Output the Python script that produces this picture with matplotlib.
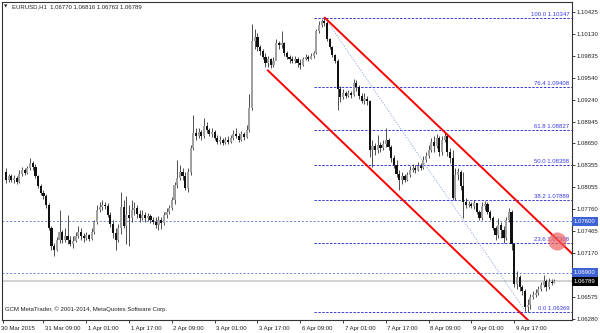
import matplotlib
matplotlib.use("Agg")
import matplotlib.pyplot as plt
from matplotlib.transforms import ScaledTranslation, blended_transform_factory

plt.rcParams['font.family'] = ['Liberation Sans', 'DejaVu Sans']

symbol = "EURUSD,H1"
last_ohlc = ["1.06770", "1.06816", "1.06763", "1.06789"]

# hourly candles, 30 Mar 19:00 .. 10 Apr 06:00 (weekend skipped)
first_open = 1.08263
closes = [
    1.08156, 1.08210, 1.08156, 1.08183, 1.08129, 1.08237, 1.08290, 1.08250, 1.08317, 1.08384,
    1.08331, 1.08210, 1.08076, 1.07982, 1.07942, 1.07821, 1.07513, 1.07258, 1.07217, 1.07352,
    1.07459, 1.07352, 1.07405, 1.07352, 1.07298, 1.07338, 1.07405, 1.07459, 1.07405, 1.07378,
    1.07419, 1.07365, 1.07459, 1.07593, 1.07754, 1.07794, 1.07821, 1.07808, 1.07687, 1.07566,
    1.07445, 1.07352, 1.07513, 1.07794, 1.07539, 1.07687, 1.07647, 1.07754, 1.07781, 1.07700,
    1.07647, 1.07687, 1.07647, 1.07673, 1.07620, 1.07593, 1.07553, 1.07620, 1.07580, 1.07687,
    1.07727, 1.07781, 1.07888, 1.08089, 1.08183, 1.08263, 1.08210, 1.08049, 1.08263, 1.08585,
    1.08786, 1.08746, 1.08800, 1.08746, 1.08880, 1.08827, 1.08773, 1.08800, 1.08719, 1.08666,
    1.08693, 1.08652, 1.08693, 1.08666, 1.08719, 1.08773, 1.08746, 1.08693, 1.08773, 1.08733,
    1.08827, 1.09122, 1.10034, 1.10087, 1.09953, 1.09899, 1.09819, 1.09739, 1.09792, 1.09712,
    1.09765, 1.10007, 1.09980, 1.10007, 1.09873, 1.09819, 1.09792, 1.09765, 1.09792, 1.09739,
    1.09712, 1.09792, 1.09819, 1.09792, 1.09832, 1.09873, 1.10168, 1.10248, 1.10302, 1.10275,
    1.10060, 1.09953, 1.09846, 1.09765, 1.09390, 1.09283, 1.09336, 1.09296, 1.09336, 1.09309,
    1.09470, 1.09417, 1.09296, 1.09229, 1.09256, 1.09229, 1.08558, 1.08612, 1.08558, 1.08626,
    1.08585, 1.08639, 1.08693, 1.08599, 1.08451, 1.08357, 1.08237, 1.08156, 1.08210, 1.08156,
    1.08223, 1.08290, 1.08317, 1.08290, 1.08344, 1.08317, 1.08424, 1.08478, 1.08558, 1.08666,
    1.08612, 1.08719, 1.08532, 1.08693, 1.08746, 1.08532, 1.08451, 1.07915, 1.08223, 1.08263,
    1.08076, 1.07861, 1.07821, 1.07834, 1.07808, 1.07848, 1.07727, 1.07647, 1.07808, 1.07834,
    1.07727, 1.07647, 1.07513, 1.07419, 1.07553, 1.07486, 1.07378, 1.07620, 1.07727, 1.07285,
    1.06750, 1.06844, 1.06710, 1.06657, 1.06443, 1.06470, 1.06577, 1.06604, 1.06630, 1.06684,
    1.06737, 1.06791, 1.06710, 1.06778, 1.06770, 1.06789,
]
highs = [
    1.08317, 1.08237, 1.08237, 1.08223, 1.08210, 1.08290, 1.08331, 1.08317, 1.08344, 1.08451,
    1.08411, 1.08371, 1.08223, 1.08103, 1.08022, 1.07968, 1.07848, 1.07539, 1.07311, 1.07392,
    1.07754, 1.07486, 1.07513, 1.07687, 1.07405, 1.07405, 1.07459, 1.07539, 1.07513, 1.07445,
    1.07459, 1.07432, 1.07513, 1.07620, 1.07821, 1.07861, 1.07888, 1.07861, 1.07848, 1.07727,
    1.07620, 1.07513, 1.07566, 1.07995, 1.07888, 1.07942, 1.07821, 1.07888, 1.07861, 1.07821,
    1.07754, 1.07754, 1.07727, 1.07714, 1.07700, 1.07660, 1.07660, 1.07673, 1.07660, 1.07727,
    1.07781, 1.07821, 1.07928, 1.08129, 1.08424, 1.08357, 1.08317, 1.08263, 1.08317, 1.08626,
    1.09028, 1.08854, 1.08854, 1.08827, 1.08988, 1.08934, 1.08854, 1.08854, 1.08827, 1.08760,
    1.08746, 1.08719, 1.08733, 1.08746, 1.08760, 1.08827, 1.08854, 1.08786, 1.08813, 1.08800,
    1.08894, 1.09323, 1.10262, 1.10195, 1.10141, 1.09980, 1.09926, 1.09873, 1.09832, 1.09806,
    1.09819, 1.10060, 1.10034, 1.10168, 1.10020, 1.09899, 1.09846, 1.09832, 1.09832, 1.09819,
    1.09792, 1.09819, 1.09859, 1.09846, 1.09873, 1.09899, 1.10195, 1.10302, 1.10329, 1.10347,
    1.10302, 1.10074, 1.09967, 1.09859, 1.09792, 1.09430, 1.09390, 1.09363, 1.09377, 1.09363,
    1.09524, 1.09511, 1.09444, 1.09336, 1.09336, 1.09296, 1.09242, 1.08693, 1.08652, 1.08760,
    1.08666, 1.08693, 1.08854, 1.08719, 1.08626, 1.08491, 1.08424, 1.08290, 1.08263, 1.08237,
    1.08263, 1.08344, 1.08371, 1.08357, 1.08398, 1.08384, 1.08478, 1.08532, 1.08626, 1.08719,
    1.08746, 1.08773, 1.08746, 1.08746, 1.08800, 1.08773, 1.08585, 1.08558, 1.08317, 1.08317,
    1.08290, 1.08263, 1.07915, 1.07875, 1.07861, 1.07888, 1.07834, 1.07754, 1.07861, 1.07875,
    1.07861, 1.07754, 1.07673, 1.07539, 1.07647, 1.07593, 1.07539, 1.07660, 1.07781, 1.07754,
    1.07311, 1.06922, 1.06870, 1.06737, 1.06684, 1.06550, 1.06617, 1.06657, 1.06684, 1.06724,
    1.06778, 1.06870, 1.06818, 1.06831, 1.06818, 1.06816,
]
lows = [
    1.08116, 1.08129, 1.08129, 1.08116, 1.08103, 1.08116, 1.08210, 1.08223, 1.08237, 1.08290,
    1.08290, 1.08183, 1.08049, 1.07955, 1.07901, 1.07781, 1.07486, 1.07217, 1.07124, 1.07191,
    1.07311, 1.07311, 1.07325, 1.07298, 1.07258, 1.07244, 1.07325, 1.07378, 1.07352, 1.07325,
    1.07352, 1.07338, 1.07352, 1.07432, 1.07566, 1.07727, 1.07754, 1.07767, 1.07660, 1.07526,
    1.07378, 1.07217, 1.07325, 1.07432, 1.07513, 1.07298, 1.07258, 1.07593, 1.07687, 1.07647,
    1.07593, 1.07620, 1.07593, 1.07607, 1.07580, 1.07566, 1.07513, 1.07486, 1.07499, 1.07553,
    1.07647, 1.07700, 1.07754, 1.07834, 1.08049, 1.08156, 1.08156, 1.08022, 1.07995, 1.08223,
    1.08558, 1.08693, 1.08719, 1.08693, 1.08719, 1.08786, 1.08746, 1.08733, 1.08693, 1.08639,
    1.08639, 1.08626, 1.08639, 1.08639, 1.08652, 1.08693, 1.08719, 1.08666, 1.08679, 1.08693,
    1.08719, 1.08800, 1.09095, 1.09926, 1.09899, 1.09846, 1.09792, 1.09685, 1.09685, 1.09672,
    1.09685, 1.09926, 1.09926, 1.09940, 1.09832, 1.09792, 1.09739, 1.09739, 1.09739, 1.09685,
    1.09658, 1.09698, 1.09779, 1.09765, 1.09792, 1.09806, 1.09859, 1.10141, 1.10221, 1.10235,
    1.10034, 1.09926, 1.09819, 1.09739, 1.09095, 1.09204, 1.09256, 1.09269, 1.09283, 1.09269,
    1.09296, 1.09363, 1.09256, 1.09202, 1.09189, 1.09175, 1.08465, 1.08331, 1.08491, 1.08518,
    1.08532, 1.08558, 1.08599, 1.08558, 1.08398, 1.08317, 1.08196, 1.08022, 1.08103, 1.08129,
    1.08143, 1.08196, 1.08263, 1.08250, 1.08277, 1.08290, 1.08304, 1.08398, 1.08451, 1.08532,
    1.08532, 1.08585, 1.08478, 1.08491, 1.08666, 1.08478, 1.08384, 1.07888, 1.07888, 1.08156,
    1.08022, 1.07647, 1.07781, 1.07794, 1.07781, 1.07767, 1.07700, 1.07620, 1.07620, 1.07754,
    1.07700, 1.07620, 1.07486, 1.07352, 1.07378, 1.07378, 1.07311, 1.07352, 1.07593, 1.07217,
    1.06710, 1.06684, 1.06657, 1.06604, 1.06389, 1.06369, 1.06416, 1.06550, 1.06577, 1.06604,
    1.06657, 1.06710, 1.06657, 1.06684, 1.06737, 1.06763,
]
opens = [first_open] + closes[:-1]

xtick_pos = [-1.2, 14, 30, 46, 62, 78, 94, 110, 126, 142, 158, 174, 190]
xtick_labels = ["30 Mar 2015", "31 Mar 09:00", "1 Apr 01:00", "1 Apr 17:00", "2 Apr 09:00",
                "3 Apr 01:00", "3 Apr 17:00", "6 Apr 09:00", "7 Apr 01:00", "7 Apr 17:00",
                "8 Apr 09:00", "9 Apr 01:00", "9 Apr 17:00"]
ytick_vals = [1.10425, 1.10130, 1.09835, 1.09540, 1.09240, 1.08945, 1.08650, 1.08355,
              1.08055, 1.07760, 1.07465, 1.07170, 1.06575, 1.06280]

fib_levels = ["0.0", "23.6", "38.2", "50.0", "61.8", "76.4", "100.0"]
fib_prices = [1.06369, 1.07308, 1.07889, 1.08358, 1.08827, 1.09408, 1.10347]
fib_start = 115
fib_trend = [(119.2, 1.10347), (194.5, 1.06369)]

hlines = [1.07600, 1.06900]
bid = 1.06789

channel_upper = [(119.2, 1.10347), (198.5, 1.07614)]
channel_lower = [(97.9, 1.09636), (195.1, 1.06265)]
highlight = (205.9, 1.0733)

x_min, x_max = -1.5, 211.6
y_min, y_max = 1.06265, 1.10567

fig = plt.figure(figsize=(6, 3.33), dpi=100)
ax = fig.add_axes([2 / 600, 13 / 333, 570 / 600, 318.5 / 333])
ax.set_xlim(x_min, x_max)
ax.set_ylim(y_min, y_max)
fs = 4.3

# reference lines
for p in hlines:
    ax.axhline(p, color='#6b80d6', lw=0.7, ls=(0, (2, 2)), zorder=1)
ax.axhline(bid, color='#cfcfcf', lw=1.3, zorder=1)
for lvl, p in zip(fib_levels, fib_prices):
    ax.plot([fib_start, x_max], [p, p], color='#3a3ae0', lw=0.7, ls=(0, (2.5, 1.5)), zorder=1)
    ax.annotate(f"{lvl} {p:.5f}", xy=(1, p), xycoords=('axes fraction', 'data'),
                xytext=(-2, 0.8), textcoords='offset points', ha='right', va='bottom',
                fontsize=fs, color='#3a3ae8', zorder=2)
(tx0, ty0), (tx1, ty1) = fib_trend
ax.plot([tx0, tx1], [ty0, ty1], color='#93a8ee', lw=0.7, ls=(0, (1.2, 1.5)), zorder=1)


def ray(pts, x_end):
    (x0, y0), (x1, y1) = pts
    k = (y1 - y0) / (x1 - x0)
    return [x0, x_end], [y0, y0 + k * (x_end - x0)]


for ch in (channel_upper, channel_lower):
    xs, ys = ray(ch, x_max + 1)
    ax.plot(xs, ys, color='#ff0000', lw=1.4, zorder=4)

# candles
idx = list(range(len(closes)))
ax.vlines(idx, lows, highs, color='#333333', lw=0.6, zorder=3)
bottoms = [min(o, c) for o, c in zip(opens, closes)]
heights = [max(abs(c - o), 0.00014) for o, c in zip(opens, closes)]
colors = ['#a0a0a0' if c >= o else '#111111' for o, c in zip(opens, closes)]
ax.bar(idx, heights, bottom=bottoms, width=0.8, color=colors, lw=0, zorder=3)

ax.plot([highlight[0]], [highlight[1]], 'o', ms=13, color='#ee6262', alpha=0.7,
        mec='none', zorder=5)

# axes styling
for s in ax.spines.values():
    s.set_color('#333333')
    s.set_linewidth(0.8)
ax.yaxis.tick_right()
ax.set_yticks(ytick_vals)
ax.set_yticklabels([f"{v:.5f}" for v in ytick_vals])
ax.tick_params(axis='y', length=2, width=0.6, pad=1.5, labelsize=fs, colors='#222222')
ax.set_xticks(xtick_pos)
ax.set_xticklabels(xtick_labels, ha='left')
ax.tick_params(axis='x', length=2.5, width=0.6, pad=1.5, labelsize=fs, colors='#222222')
for lab in ax.get_xticklabels():
    lab.set_transform(lab.get_transform() + ScaledTranslation(1.5 / 100, 0, fig.dpi_scale_trans))
lbl0 = ax.get_xticklabels()[0]
lbl0.set_transform(lbl0.get_transform() + ScaledTranslation(-3 / 100, 0, fig.dpi_scale_trans))

# price tags on the right scale
tr = blended_transform_factory(ax.transAxes, ax.transData)
for p, bg in [(hlines[0], '#3d62d4'), (hlines[1], '#3d62d4'), (bid, '#000000')]:
    ax.text(1.003, p, f"{p:.5f}", transform=tr, ha='left', va='center', fontsize=fs,
            color='white', clip_on=False, zorder=6,
            bbox=dict(boxstyle='square,pad=0.35', fc=bg, ec='none'))

fig.text(4 / 600, 1 - 6.5 / 333, "\u25bc", fontsize=3.2, color='#222222',
         va='center', family='DejaVu Sans')
fig.text(12 / 600, 1 - 6.5 / 333, f"{symbol}  " + " ".join(last_ohlc), fontsize=fs,
         color='#222222', va='center')
fig.text(5 / 600, 1 - 309 / 333, "GCM MetaTrader, \u00a9 2001-2014, MetaQuotes Software Corp.",
         fontsize=fs, color='#222222', va='center')

fig.savefig("out.png", dpi=100)
